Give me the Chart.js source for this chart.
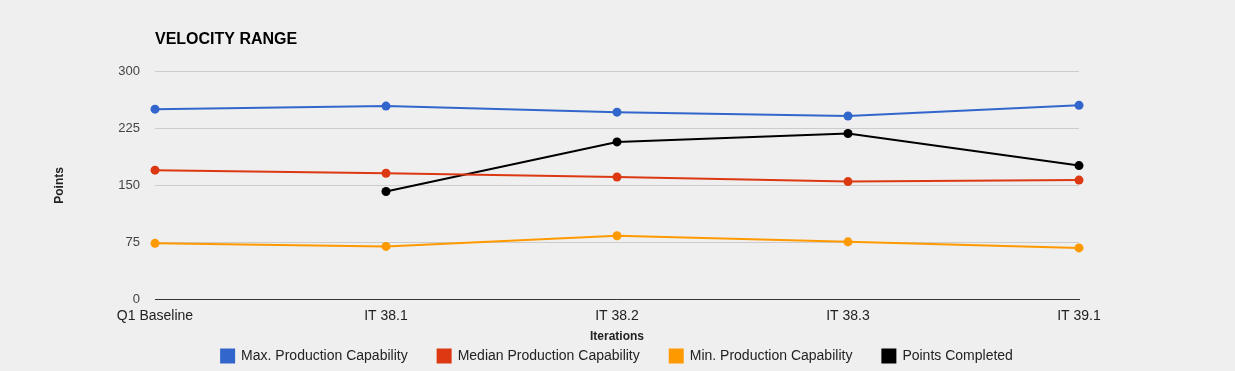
<!DOCTYPE html>
<html>
<head>
<meta charset="utf-8">
<script src="https://cdn.jsdelivr.net/npm/chart.js@4"></script>
<style>
  html, body { margin: 0; padding: 0; background: #efefef; }
  #wrap { width: 1235px; height: 371px; }
</style>
</head>
<body>
<div id="wrap"><canvas id="velocityChart" width="1235" height="371"></canvas></div>
<script>
const iterations = ["Q1 Baseline", "IT 38.1", "IT 38.2", "IT 38.3", "IT 39.1"];
const maxCapability = [250, 254, 246, 241, 255];
const medianCapability = [170, 166, 161, 155, 157];
const minCapability = [74, 70, 84, 76, 68];
const pointsCompleted = [null, 142, 207, 218, 176];
const yTicks = [0, 75, 150, 225, 300];

const FONT = "'Liberation Sans', Arial, sans-serif";

// title lined up with the plot's left edge, legend pulled up under the axis title
// and centred under the plot
const layoutPlugin = {
  id: "velocityLayout",
  beforeDraw(chart) {
    const lg = chart.legend;
    if (lg) {
      const pad = lg.options.labels.padding;
      const itemsWidth = lg.lineWidths[0] - pad;
      const mid = (chart.chartArea.left + chart.chartArea.right) / 2;
      lg.top = chart.height - 15 - 7 - pad;
      lg.bottom = chart.height;
      lg.left = mid - itemsWidth / 2 - pad;
      lg.right = chart.width;
    }
  },
  afterDraw(chart) {
    const ctx = chart.ctx;
    ctx.save();
    ctx.font = "bold 16px " + FONT;
    ctx.fillStyle = "#000";
    ctx.textBaseline = "middle";
    ctx.fillText("VELOCITY RANGE", chart.chartArea.left, 40);
    ctx.restore();
  }
};

function makeLine(label, data, color) {
  return {
    label: label,
    data: data,
    borderColor: color,
    backgroundColor: color,
    borderWidth: 2,
    pointRadius: 4.5,
    pointHoverRadius: 5,
    pointBackgroundColor: color,
    pointBorderWidth: 0,
    tension: 0,
    spanGaps: false
  };
}

const ctx = document.getElementById("velocityChart").getContext("2d");
const velocityChart = new Chart(ctx, {
  type: "line",
  data: {
    labels: iterations,
    datasets: [
      makeLine("Max. Production Capability", maxCapability, "#3366cc"),
      makeLine("Median Production Capability", medianCapability, "#dc3912"),
      makeLine("Min. Production Capability", minCapability, "#ff9900"),
      makeLine("Points Completed", pointsCompleted, "#000000")
    ]
  },
  options: {
    responsive: false,
    animation: false,
    layout: { padding: { top: 71, left: 52, right: 0, bottom: 0 } },
    plugins: {
      title: { display: false },
      tooltip: { enabled: false },
      legend: {
        position: "bottom",
        align: "start",
        maxHeight: 27,
        labels: {
          boxWidth: 13,
          boxHeight: 13,
          padding: 30,
          color: "#222",
          font: { family: FONT, size: 14 }
        }
      }
    },
    scales: {
      x: {
        offset: false,
        grid: { display: false },
        border: { display: true, color: "#333", width: 1 },
        ticks: { color: "#222", padding: 0, maxRotation: 0, font: { family: FONT, size: 14 } },
        title: { display: true, text: "Iterations", color: "#222", padding: { top: 5, bottom: 0 }, font: { family: FONT, size: 12, weight: "bold" } }
      },
      y: {
        min: 0,
        max: 300,
        afterBuildTicks: function (scale) {
          scale.ticks = yTicks.map(v => ({ value: v }));
        },
        afterFit: function (scale) { scale.width = 103; },
        grid: { color: "#cccccc", drawTicks: false },
        border: { display: false },
        ticks: { color: "#444", padding: 15, font: { family: FONT, size: 13 } },
        title: { display: true, text: "Points", color: "#222", padding: 0, font: { family: FONT, size: 12, weight: "bold" } }
      },
      yRight: {
        position: "right",
        display: true,
        afterFit: function (scale) { scale.width = 156; },
        grid: { display: false },
        border: { display: false },
        ticks: { display: false }
      }
    }
  },
  plugins: [layoutPlugin]
});
</script>
</body>
</html>
